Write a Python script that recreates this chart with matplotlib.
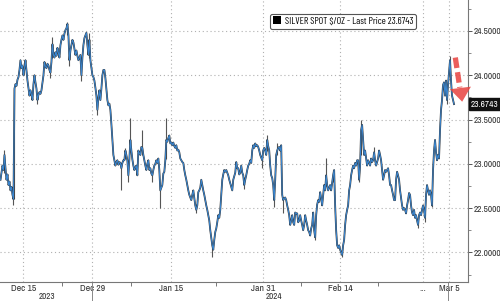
import matplotlib
matplotlib.use("Agg")
import matplotlib.pyplot as plt
import numpy as np

# hourly close, one value per bar (SILVER SPOT $/OZ)
price = [
    22.82, 22.90, 22.98, 22.93, 23.10, 22.95, 22.82, 22.88, 22.76, 22.80, 22.70, 22.74,
    22.65, 22.60, 23.85, 23.90, 23.88, 23.95, 23.98, 24.06, 24.17, 24.08, 24.11, 24.00,
    24.08, 24.17, 24.05, 23.94, 23.85, 23.77, 23.83, 23.78, 23.72, 23.90, 24.00, 23.92,
    23.85, 23.72, 23.78, 23.81, 23.79, 23.83, 23.92, 24.00, 24.15, 24.10, 24.08, 24.13,
    24.11, 24.06, 24.03, 24.15, 24.35, 24.23, 24.20, 24.26, 24.22, 24.31, 24.25, 24.20,
    24.34, 24.40, 24.45, 24.40, 24.47, 24.51, 24.53, 24.58, 24.45, 24.17, 24.28, 24.34,
    24.40, 24.37, 24.30, 24.23, 24.28, 24.22, 24.17, 24.20, 24.23, 24.00, 24.20, 24.34,
    24.42, 24.45, 24.48, 24.34, 24.23, 24.40, 24.17, 24.08, 24.00, 23.98, 23.94, 23.86,
    23.77, 23.61, 23.75, 23.83, 23.72, 23.85, 24.00, 24.06, 24.06, 23.97, 23.85, 23.72,
    23.66, 23.68, 23.61, 23.45, 23.27, 23.10, 23.04, 22.98, 23.02, 23.04, 22.99, 23.02,
    23.01, 22.95, 23.01, 23.04, 23.04, 23.15, 23.10, 23.04, 22.87, 23.05, 23.27, 23.15,
    23.05, 22.98, 22.93, 22.96, 22.98, 22.87, 23.15, 23.12, 23.10, 23.19, 23.18, 23.10,
    23.04, 22.98, 22.93, 23.00, 23.04, 22.93, 22.95, 22.89, 22.87, 22.93, 22.98, 23.00,
    23.04, 23.01, 23.06, 22.93, 22.70, 22.73, 22.76, 22.89, 22.91, 23.04, 23.27, 23.25,
    23.29, 23.32, 23.23, 23.24, 23.21, 23.24, 23.20, 23.18, 23.21, 23.15, 23.16, 23.13,
    23.06, 23.04, 23.02, 23.01, 22.93, 22.87, 22.82, 22.76, 22.70, 22.65, 22.62, 22.59,
    22.65, 22.70, 22.61, 22.53, 22.48, 22.53, 22.68, 22.70, 22.73, 22.82, 22.76, 22.70,
    22.65, 22.59, 22.53, 22.48, 22.42, 22.36, 22.25, 22.16, 22.08, 22.03, 22.14, 22.23,
    22.27, 22.34, 22.42, 22.39, 22.48, 22.65, 22.82, 22.88, 22.93, 22.91, 22.93, 22.90,
    22.87, 22.82, 22.78, 22.74, 22.70, 22.82, 22.86, 22.90, 23.02, 22.95, 22.95, 22.88,
    22.90, 22.98, 22.90, 22.87, 22.76, 22.82, 22.87, 22.93, 22.98, 23.00, 23.04, 23.01,
    23.15, 23.21, 23.18, 23.23, 23.20, 23.21, 23.19, 23.15, 23.10, 23.07, 23.04, 23.15,
    23.18, 23.15, 23.10, 23.27, 23.20, 23.15, 22.98, 22.87, 22.84, 22.76, 22.59, 22.82,
    23.10, 23.15, 23.18, 23.19, 23.15, 23.21, 22.65, 22.59, 22.61, 22.62, 22.59, 22.53,
    22.48, 22.42, 22.31, 22.36, 22.42, 22.34, 22.31, 22.45, 22.44, 22.44, 22.34, 22.36,
    22.42, 22.36, 22.31, 22.25, 22.31, 22.42, 22.36, 22.31, 22.25, 22.23, 22.19, 22.27,
    22.31, 22.45, 22.25, 22.17, 22.42, 22.54, 22.59, 22.57, 22.68, 22.61, 22.53, 22.65,
    22.76, 22.70, 22.87, 22.76, 22.70, 22.73, 22.76, 22.70, 22.79, 22.87, 22.93, 22.53,
    22.25, 22.08, 22.05, 22.08, 22.03, 22.00, 21.97, 22.08, 22.14, 22.31, 22.42, 22.48,
    22.53, 22.70, 22.76, 22.87, 22.93, 22.98, 22.95, 23.01, 22.98, 23.04, 23.04, 22.82,
    22.98, 23.38, 23.44, 23.27, 23.10, 23.15, 23.06, 22.98, 23.04, 23.01, 22.98, 23.06,
    23.02, 23.04, 23.13, 23.04, 22.98, 23.02, 23.06, 23.15, 23.10, 23.04, 22.93, 22.82,
    22.87, 22.93, 22.91, 22.93, 22.95, 22.87, 22.76, 22.76, 22.70, 22.65, 22.59, 22.59,
    22.82, 22.91, 22.87, 22.82, 22.70, 22.61, 22.53, 22.48, 22.50, 22.48, 22.44, 22.53,
    22.59, 22.67, 22.65, 22.53, 22.45, 22.42, 22.48, 22.39, 22.42, 22.36, 22.31, 22.42,
    22.45, 22.42, 22.48, 22.53, 22.48, 22.39, 22.65, 22.76, 22.70, 22.65, 22.70, 22.65,
    22.53, 22.93, 23.15, 23.27, 23.13, 23.04, 23.10, 23.06, 23.38, 23.61, 23.72, 23.89,
    23.92, 23.77, 23.94, 23.72, 23.89, 24.03, 24.17, 23.94, 23.77, 23.72, 23.6743,
]

# high/low wicks that stick out of the close line
wick_bar = [4, 13, 14, 37, 50, 52, 67, 69, 81, 89, 97, 121, 125, 128, 130, 142, 152,
            160, 166, 196, 212, 244, 262, 267, 274, 277, 283, 315, 326, 333, 342, 359,
            361, 374, 418, 425, 432, 447, 450]
wick_lo = [22.90, 22.53, 22.60, 23.68, 23.97, 24.20, 24.45, 24.11, 23.94, 24.20, 23.55,
           22.70, 23.05, 22.79, 23.15, 23.10, 22.79, 22.50, 23.05, 22.44, 21.95, 22.72,
           22.95, 23.15, 22.51, 23.10, 22.45, 22.14, 22.75, 22.80, 21.95, 22.79, 23.10,
           23.05, 22.28, 22.34, 22.51, 23.68, 23.95]
wick_hi = [23.16, 22.65, 23.85, 23.80, 24.06, 24.43, 24.60, 24.20, 24.05, 24.48, 23.70,
           23.00, 23.18, 22.95, 23.52, 23.38, 22.90, 22.75, 23.52, 22.55, 22.10, 22.85,
           23.08, 23.32, 22.65, 23.23, 22.62, 22.25, 23.07, 22.93, 22.05, 22.95, 23.49,
           23.19, 22.35, 22.45, 22.60, 23.80, 24.22]

tick_bars = [23, 92, 171, 263, 340, 423, 449]
tick_labels = ["Dec 15", "Dec 29", "Jan 15", "Jan 31", "Feb 14", "...", "Mar 5"]
minor_bars = [62, 131, 216, 301, 378]
year_bars = [46, 274]
year_labels = ["2023", "2024"]
y_ticks = [22.0, 22.5, 23.0, 23.5, 24.0, 24.5]
last_price = 23.6743

plt.rcParams['font.family'] = ['Archivo Narrow', 'DejaVu Sans']

fig = plt.figure(figsize=(5.0, 3.01), dpi=100)
ax = fig.add_axes([0.0, 0.063, 0.936, 0.937])

x = np.arange(len(price))
ax.vlines(wick_bar, wick_lo, wick_hi, color="#555555", lw=0.8, zorder=2)
ax.plot(x, price, color="#333333", lw=1.3, zorder=3)
ax.plot(x, price, color="#3a86d0", lw=0.75, zorder=4)

ax.set_xlim(-0.5, 468)
ax.set_ylim(21.665, 24.85)

# grid
for yv in y_ticks:
    ax.axhline(yv, color="#b0b0b0", lw=0.8, ls=(0, (1, 2.5)), zorder=1)
for xv in tick_bars:
    ax.axvline(xv, color="#b0b0b0", lw=0.8, ls=(0, (1, 2.5)), zorder=1)

# axes styling
for s in ["left", "top"]:
    ax.spines[s].set_visible(False)
for s in ["right", "bottom"]:
    ax.spines[s].set_color("#777777")
    ax.spines[s].set_linewidth(0.8)

ax.yaxis.tick_right()
ax.set_yticks(y_ticks)
ax.set_yticklabels([f"{v:.4f}" for v in y_ticks])
ax.set_yticks([21.75, 22.25, 22.75, 23.25, 23.75, 24.25, 24.75], minor=True)
ax.tick_params(axis="y", which="major", length=3, width=0.7, color="#555555",
               labelsize=6.7, labelcolor="#333333", pad=1.2)
ax.tick_params(axis="y", which="minor", length=2, width=0.6, color="#777777")

ax.set_xticks(tick_bars)
ax.set_xticklabels(tick_labels)
ax.set_xticks(minor_bars, minor=True)
ax.tick_params(axis="x", which="major", length=0, labelsize=7, labelcolor="#333333", pad=1.5)
ax.tick_params(axis="x", which="minor", length=3, width=0.7, color="#777777")

# year separators and labels
for xv in [92, 448]:
    ax.plot([xv, xv], [21.665, 21.45], color="#888888", lw=0.7, clip_on=False)
for xv, lab in zip(year_bars, year_labels):
    ax.text(xv, 21.50, lab, ha="center", va="center", fontsize=6.5, color="#333333")

# last price tag
ax.annotate(f"{last_price:.4f}", xy=(1.0, last_price), xycoords=("axes fraction", "data"),
            xytext=(2.0, 0), textcoords="offset points", ha="left", va="center",
            fontsize=6.7, color="white",
            bbox=dict(boxstyle="square,pad=0.15", fc="#111111", ec="#111111"))

# legend box
leg = ax.legend([plt.Rectangle((0, 0), 1, 1, fc="black")],
                [f"SILVER SPOT $/OZ - Last Price {last_price}"],
                loc="upper left", bbox_to_anchor=(0.577, 0.952),
                prop={"family": ["Barlow Condensed", "DejaVu Sans"], "size": 7.1},
                handlelength=0.8, handleheight=0.8, handletextpad=0.4,
                borderpad=0.3, borderaxespad=0, framealpha=1, fancybox=True)
leg.get_frame().set_edgecolor("#555555")
leg.get_frame().set_linewidth(0.8)

# red dashed arrow
ax.plot([455.3, 459.8], [24.20, 23.86], color="#e8423f", lw=3.8, alpha=0.85,
        ls=(0, (2.0, 0.8)), solid_capstyle="butt", zorder=6)
ax.annotate("", xy=(462.5, 23.67), xytext=(460.2, 23.88),
            arrowprops=dict(arrowstyle="-|>,head_length=0.5,head_width=0.38",
                            color="#e8423f", lw=0, alpha=0.85, mutation_scale=20),
            zorder=6)

fig.savefig("out.png", dpi=100)
